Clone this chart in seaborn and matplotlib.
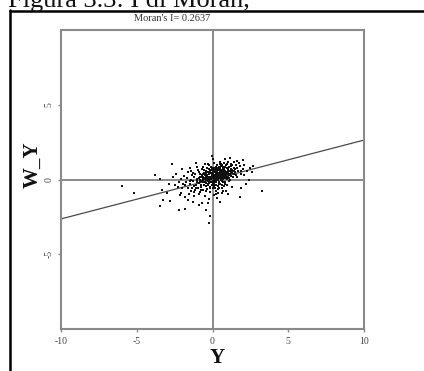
import matplotlib
matplotlib.use("Agg")
import matplotlib.pyplot as plt
import seaborn as sns
import numpy as np
import pandas as pd
from matplotlib.lines import Line2D

# ---- data ----
points = [
    (0.15,0.15),(0.05,0.25),(0.25,0.05),(-0.05,0.1),(0.35,0.3),(0.1,-0.05),(0.2,0.4),(-0.15,0.2),(0.45,0.15),(0.0,-0.1),
    (0.3,-0.05),(-0.2,0.0),(0.5,0.35),(0.1,0.5),(-0.1,-0.2),(0.4,0.45),(0.6,0.2),(-0.3,0.15),(0.2,-0.2),(0.05,0.4),
    (0.55,0.0),(-0.25,0.35),(0.7,0.3),(0.3,0.6),(-0.05,-0.35),(0.45,-0.15),(-0.4,-0.05),(0.15,0.65),(0.65,0.5),(-0.35,0.3),
    (0.8,0.1),(0.25,-0.35),(-0.15,0.55),(0.75,0.45),(-0.5,0.1),(0.35,0.7),(0.0,0.7),(0.9,0.35),(-0.45,-0.25),(0.5,-0.3),
    (0.6,0.65),(-0.6,0.2),(0.1,-0.45),(0.85,0.6),(-0.3,-0.4),(0.4,0.85),(1.0,0.2),(-0.7,-0.1),(0.2,0.85),(0.7,-0.15),
    (-0.2,0.7),(1.05,0.5),(-0.55,-0.4),(0.55,0.9),(-0.8,0.15),(0.95,0.75),(0.15,-0.6),(-0.1,0.85),(1.15,0.35),(-0.65,0.4),
    (0.3,1.0),(-0.4,0.55),(0.8,-0.3),(1.2,0.7),(-0.9,-0.25),(0.0,-0.6),(0.65,1.0),(-0.75,-0.5),(1.3,0.45),(-0.35,-0.65),
    (0.45,-0.55),(-1.0,0.05),(0.9,0.95),(-0.25,0.95),(1.35,0.2),(-0.55,0.65),(0.1,1.1),(-0.85,0.35),(1.1,-0.1),(-1.1,-0.35),
    (0.25,-0.75),(0.75,1.1),(-0.45,-0.8),(1.45,0.6),(-1.2,0.2),(0.5,1.2),(-0.95,-0.6),(1.25,0.9),(-0.6,0.85),(0.6,-0.6),
    (-1.3,-0.1),(0.95,-0.4),(-0.15,-0.85),(1.55,0.3),(-0.7,0.7),(0.35,-0.9),(-1.15,-0.7),(1.0,1.2),(-0.3,1.05),(1.6,0.8),
    (0.12,0.18),(0.22,0.28),(0.08,0.02),(0.32,0.12),(-0.02,0.32),(0.18,-0.08),(0.42,0.28),(0.28,0.42),(-0.08,0.18),(0.38,-0.02),
    (0.02,0.12),(0.48,0.22),(0.18,0.52),(-0.18,0.08),(0.58,0.42),(0.12,-0.22),(0.28,0.22),(-0.12,0.42),(0.52,0.08),(0.22,0.62),
    (0.62,0.32),(-0.28,-0.12),(0.08,0.62),(0.72,0.12),(-0.22,0.52),(0.42,-0.28),(0.32,0.52),(0.68,0.58),(-0.38,0.22),(0.02,-0.28),
    (0.82,0.42),(-0.48,0.02),(0.52,0.72),(0.12,0.78),(-0.32,-0.28),(0.88,0.22),(0.38,-0.42),(-0.08,0.62),(0.78,0.72),(-0.52,0.28),
    (1.02,0.62),(-0.62,-0.18),(0.28,0.78),(0.62,-0.38),(-0.42,0.45),(0.92,0.52),(-0.18,-0.48),(0.48,1.02),(1.12,0.12),(-0.72,0.28),
    (-0.05,0.45),(0.35,0.05),(0.15,0.3),(0.55,0.55),(-0.25,-0.25),(0.75,0.25),(0.05,-0.15),(0.45,0.4),(-0.35,0.05),(0.25,0.15),
    (0.65,0.1),(0.85,0.85),(-0.45,0.15),(0.95,0.05),(-0.65,0.05),(1.05,0.35),(-0.85,-0.05),(1.15,0.55),(-0.75,-0.35),(0.7,0.85),
    (-1.05,-0.2),(1.25,0.25),(-0.9,0.5),(1.4,0.4),(-1.25,-0.45),(0.85,-0.2),(-0.6,-0.7),(1.3,0.65),(-1.4,0.0),(1.1,0.85),
    (-1.5,-0.3),(1.5,0.5),(-1.35,0.3),(1.7,0.6),(-1.6,-0.55),(1.2,1.05),(-1.7,0.1),(1.8,0.9),(-1.45,-0.8),(1.65,0.15),
    (-1.8,-0.4),(1.9,0.4),(-1.9,0.25),(2.0,0.7),(-2.0,-0.6),(1.75,1.1),(-1.65,0.5),(2.1,0.3),(-1.55,-1.0),(1.45,1.15),
    (-2.2,-0.2),(2.3,0.55),(-2.1,-0.9),(-2.4,0.4),(2.2,-0.3),(-1.8,-1.2),(1.3,-0.5),(-2.3,-0.5),(2.5,0.8),(-1.2,-1.1),
    (-0.9,-1.0),(0.6,-0.9),(-0.5,-1.1),(0.1,-1.05),(-0.2,-1.3),(0.3,-1.25),(0.0,1.35),(-0.5,1.05),(0.8,1.35),(-1.0,0.85),
    (-0.05,1.6),(1.15,1.45),(1.6,1.27),(2.0,1.33),(-1.5,0.8),(-2.7,1.05),(2.6,0.5),(1.8,-1.2),(3.25,-0.8),(-0.7,-1.6),
    (-0.4,-2.07),(-0.16,-2.45),(-0.2,-2.9),(-1.8,-2.0),(-2.2,-2.07),(-3.45,-1.8),(-2.8,-1.47),(-3.25,-1.4),(-3.35,-0.67),(-2.5,-0.4),
    (-2.15,-1.07),(-3.45,0.05),(-3.8,0.3),(-5.2,-0.9),(-6.0,-0.45),(-2.9,-0.3),(-1.3,-1.5),(0.5,-1.5),(-0.9,-1.7),(1.0,-1.0),
    (-2.6,0.2),(2.7,0.9),(-3.0,-0.9),(2.4,0.0),(-1.1,1.1),(1.9,-0.6),(-2.0,0.7),(0.9,-0.75),(-0.3,-1.6),(-1.6,-1.35),
    (0.4,0.1),(0.6,0.45),(0.2,0.0),(0.8,0.55),(-0.1,0.05),(0.5,0.6),(0.3,0.35),(0.7,0.7),(0.1,0.2),(0.9,0.45),
    (-0.2,-0.1),(1.0,0.7),(-0.4,0.3),(0.6,-0.1),(-0.6,-0.05),(1.2,0.45),(-0.8,-0.15),(0.4,-0.2),(-1.0,-0.1),(1.4,0.75),
    (0.0,0.3),(0.2,0.7),(-0.3,0.5),(0.5,0.8),(-0.5,-0.2),(0.7,0.05),(-0.7,0.15),(0.9,0.2),(-0.9,0.1),(1.1,0.3),
    (-1.1,-0.55),(1.3,0.95),(-1.3,0.45),(1.5,0.7),(-1.5,-0.1),(0.15,-0.35),(-0.15,-0.6),(0.35,-0.65),(-0.35,0.75),(0.55,1.05),
    (-0.55,0.45),(0.75,-0.45),(-0.75,-0.7),(0.95,1.05),(-0.95,0.65),(1.15,0.0),(-1.15,0.35),(1.35,0.55),(-1.35,-0.6),(1.55,0.95),
    (0.25,0.5),(0.45,0.65),(0.05,0.55),(0.65,0.4),(-0.05,0.75),(0.85,0.3),(-0.25,0.1),(1.05,0.15),(-0.45,-0.45),(1.25,0.6),
    (-1.75,-0.15),(-1.95,-0.3),(1.85,0.55),(-1.25,-0.85),(-0.8,-0.85),(0.2,-0.95),(0.7,-0.75),(-2.05,0.05),(2.05,0.95),(-1.4,0.6),
]
y_vals = [p[0] for p in points]
wy_vals = [p[1] for p in points]

moran_i = 0.2637
line_x = [-10, 10]
line_y = [moran_i * v for v in line_x]

x_ticks = [-10, -5, 0, 5, 10]
x_tick_labels = ["-10", "-5", "0", "5", "10"]
y_ticks = [-5, 0, 5]
y_tick_labels = ["-5", "0", "5"]
title_text = "Moran's I= 0.2637"
caption_text = "Figura 3.3: I di Moran,"
x_label = "Y"
y_label = "W_Y"

# ---- figure ----
sns.set_theme(style="white")
plt.rcParams['font.family'] = ['Liberation Serif', 'DejaVu Serif']

W, H = 424, 371
fig = plt.figure(figsize=(W / 100, H / 100), dpi=100)
fig.patch.set_facecolor("white")

L, R, T, B = 61, 364, 30, 329
ax = fig.add_axes([L / W, 1 - B / H, (R - L) / W, (B - T) / H])
ax.set_facecolor("white")

gray = "#8a8a8a"
ax.axhline(0, color=gray, lw=1.4, zorder=1)
ax.axvline(0, color=gray, lw=1.4, zorder=1)

df = pd.DataFrame({"Y": y_vals, "W_Y": wy_vals})
sns.lineplot(x=line_x, y=line_y, ax=ax, color="#4a4a4a", lw=0.9, zorder=2)
sns.scatterplot(data=df, x="Y", y="W_Y", ax=ax, color="#111111", marker="s",
                s=3.8, linewidth=0, edgecolor=None, zorder=3)

ax.set_xlim(-10, 10)
ax.set_ylim(-10, 10)
ax.set_xticks(x_ticks)
ax.set_xticklabels(x_tick_labels)
ax.set_yticks(y_ticks)
ax.set_yticklabels(y_tick_labels, rotation=90, va="center")
ax.tick_params(axis="both", which="both", direction="out", length=2.5, width=1,
               color=gray, labelsize=7, labelcolor="#444444", pad=3,
               bottom=True, left=True)
for s in ax.spines.values():
    s.set_color(gray)
    s.set_linewidth(1.5)
    s.set_visible(True)

ax.set_xlabel("")
ax.set_ylabel("")

fig.text(217 / W, 1 - 358 / H, x_label, ha="center", va="center",
         fontsize=15, fontweight="bold", color="#111111")
fig.text(33 / W, 1 - 165 / H, y_label, ha="center", va="center", rotation=90,
         fontsize=15, fontweight="bold", color="#111111")
fig.text(172 / W, 1 - 21 / H, title_text, ha="center", va="baseline",
         fontsize=7.5, color="#333333")
fig.text(8 / W, 1 - 7 / H, caption_text, ha="left", va="baseline",
         fontsize=19, color="#111111")

# black frame lines
fig.add_artist(Line2D([9.5 / W, 9.5 / W], [0, 1 - 10 / H], transform=fig.transFigure,
                      color="black", lw=1.8))
fig.add_artist(Line2D([9.5 / W, 1], [1 - 10.5 / H, 1 - 10.5 / H], transform=fig.transFigure,
                      color="black", lw=1.8))

fig.savefig("out.png", dpi=100)
